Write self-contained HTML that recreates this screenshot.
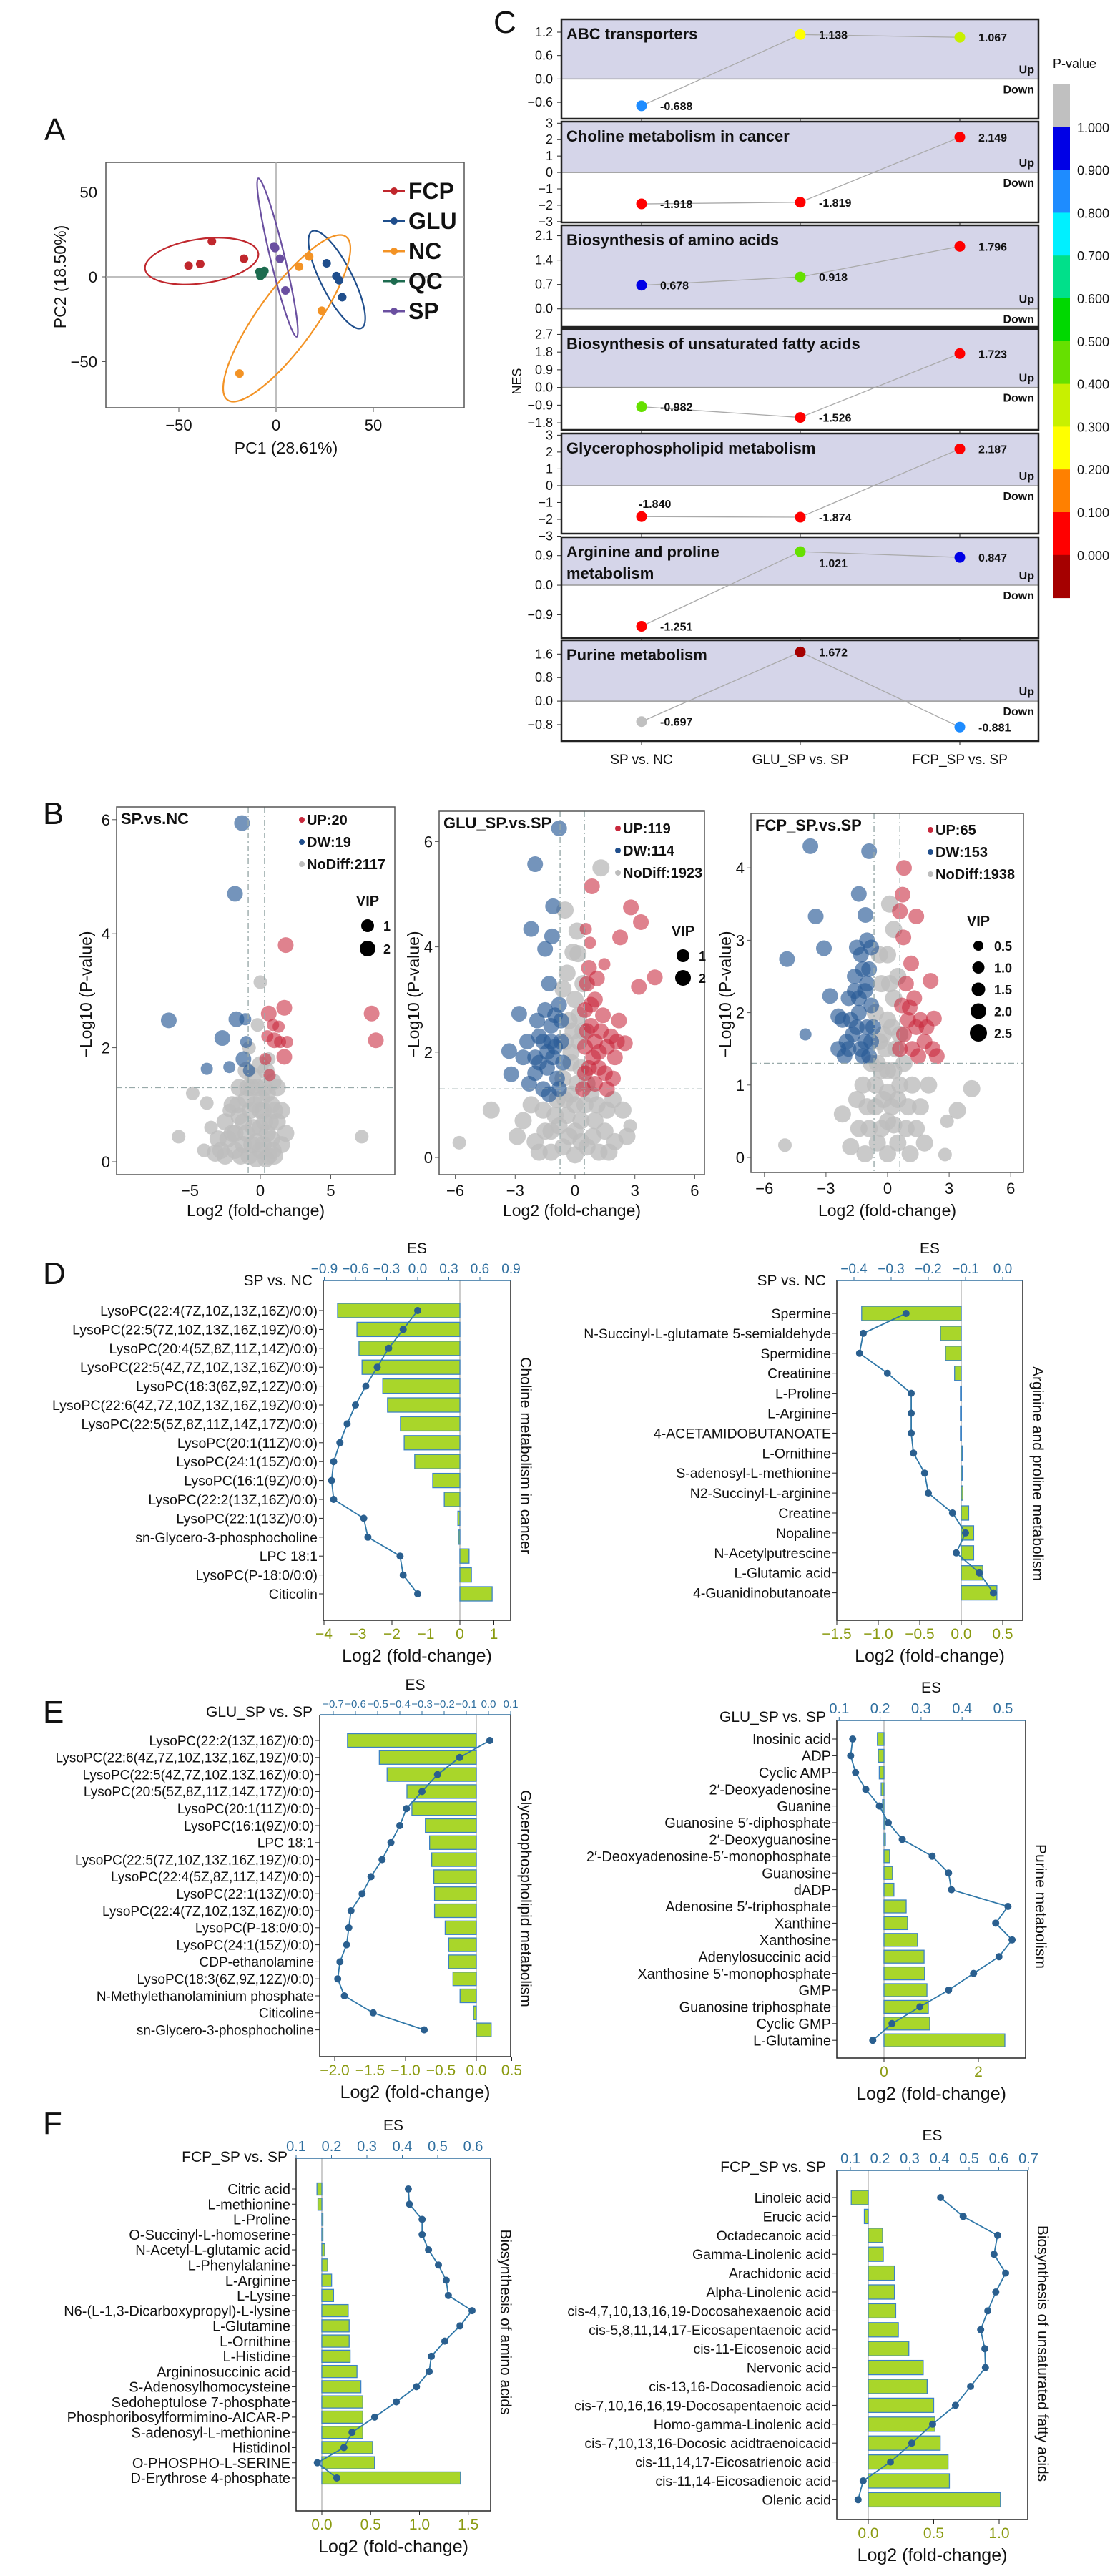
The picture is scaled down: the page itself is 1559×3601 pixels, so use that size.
<!DOCTYPE html>
<html><head><meta charset="utf-8">
<style>
body{margin:0;background:#fff;}
svg{display:block;font-family:"Liberation Sans",sans-serif;}
</style></head>
<body>
<svg id="fig" width="1559" height="3601" viewBox="0 0 1559 3601" xmlns="http://www.w3.org/2000/svg"></svg>
<script>
// ===== Panel A data =====
const pcaGroups = ["FCP","GLU","NC","QC","SP"];
const pcaColors = ["#c0272d","#1f4e8c","#f39325","#1d6b4f","#6a4fa0"];
const pcaFCP_x = [-45,-39,-33,-16.5];
const pcaFCP_y = [6.6,7.6,21,10.7];
const pcaGLU_x = [26,31,32.4,34];
const pcaGLU_y = [8,0.5,-2,-12];
const pcaNC_x = [17,11.8,23.5,-18.8];
const pcaNC_y = [12,6,-20,-57];
const pcaQC_x = [-8.5,-7,-6,-8];
const pcaQC_y = [3,1.5,3.5,0.5];
const pcaSP_x = [-1,2,4.8,-0.5];
const pcaSP_y = [18,10.7,-8,17];
const pcaXTicks = [-50,0,50];
const pcaYTicks = [50,0,-50];

// ===== Panel C data =====
const cPathways = ["ABC transporters","Choline metabolism in cancer","Biosynthesis of amino acids","Biosynthesis of unsaturated fatty acids","Glycerophospholipid metabolism","Arginine and proline\nmetabolism","Purine metabolism"];
const cComparisons = ["SP vs. NC","GLU_SP vs. SP","FCP_SP vs. SP"];
const nesABC = [-0.688,1.138,1.067];
const nesCholine = [-1.918,-1.819,2.149];
const nesAmino = [0.678,0.918,1.796];
const nesUnsat = [-0.982,-1.526,1.723];
const nesGlycero = [-1.840,-1.874,2.187];
const nesArginine = [-1.251,1.021,0.847];
const nesPurine = [-0.697,1.672,-0.881];
const pABC = [0.85,0.25,0.35];
const pCholine = [0.05,0.05,0.05];
const pAmino = [0.95,0.45,0.05];
const pUnsat = [0.45,0.05,0.05];
const pGlycero = [0.05,0.05,0.05];
const pArginine = [0.05,0.45,0.95];
const pPurine = [1.05,-0.05,0.85];
const ticksABC = [1.2,0.6,0.0,-0.6];
const ticksCholine = [3,2,1,0,-1,-2,-3];
const ticksAmino = [2.1,1.4,0.7,0.0];
const ticksUnsat = [2.7,1.8,0.9,0.0,-0.9,-1.8];
const ticksGlycero = [3,2,1,0,-1,-2,-3];
const ticksArginine = [0.9,0.0,-0.9];
const ticksPurine = [1.6,0.8,0.0,-0.8];
const rangeABC = [1.53,-1.02];
const rangeCholine = [3.1,-3.05];
const rangeAmino = [2.4,-0.52];
const rangeUnsat = [2.97,-2.16];
const rangeGlycero = [3.1,-2.85];
const rangeArginine = [1.46,-1.61];
const rangePurine = [2.07,-1.36];
const pvalTicks = ["1.000","0.900","0.800","0.700","0.600","0.500","0.400","0.300","0.200","0.100","0.000"];

// ===== Panel B data =====
const v1Up = [[1.8,3.8,2],[7.9,2.6,2],[8.2,2.13,2],[0.6,2.6,2],[1.7,2.7,2],[1.0,2.13,2],[1.7,1.84,2],[0.66,1.52,1],[0.36,1.8,1],[1.3,2.37,1],[0.5,2.2,1],[1.4,2.1,1],[0.9,2.4,1],[1.9,2.1,1]];
const v1Dw = [[-1.3,5.94,2],[-1.8,4.7,2],[-6.5,2.48,2],[-1.7,2.5,2],[-2.7,2.17,2],[-1.07,2.5,1],[-1.2,1.8,2],[-2.2,1.66,1],[-3.8,1.63,1],[-1.0,2.1,1],[-0.8,1.6,1]];
const v1No = [[0,3.15,1],[-4.8,1.2,1],[-3.8,1.03,1],[-5.8,0.44,1],[7.2,0.44,1],[-0.5,1.5,2],[0.3,1.3,2],[-1,1.1,2],[0.8,1.0,2],[-1.5,0.8,2],[1.2,0.7,2],[-2,0.5,2],[-3,0.4,2],[-4,0.2,1],[-2.5,0.1,2],[0,0.2,2],[0.5,0.5,2],[-0.5,0.6,2],[1.5,0.3,2],[-1.2,0.3,2],[0.2,0.9,2],[-0.3,0.05,2],[1,0.1,2],[-3.5,0.6,1],[-2.2,0.9,1],[0.6,1.8,1],[-0.8,2.0,1],[-0.2,2.4,1],[0.4,1.6,2],[-0.9,1.3,2],[0.9,1.4,2],[-1.8,0.2,2],[-0.6,0.3,2],[0.3,0.7,2],[-2,1.0,2],[-1.5,1.3,2],[-1,1.6,2],[0,1.7,2],[0.5,1.2,2],[1,0.9,2],[1.5,0.9,2],[-2.5,0.7,2],[-1.8,0.5,2],[-1,0.5,2],[0,0.9,2],[0.8,0.4,2],[-0.2,1.3,2],[-2.8,0.2,2],[1.2,1.3,2],[-1.4,0.1,2],[0.6,0.1,2],[-0.7,0.9,2],[0.2,0.3,2],[0,0.6,2],[-0.4,1.0,2],[0.7,0.7,2],[-1.2,0.7,2],[0.4,0.05,2],[-0.8,0.1,2],[-2.3,0.4,2],[-3.2,0.15,2],[1.8,0.5,2],[-0.3,0.35,2],[0.1,1.1,2],[-0.6,1.3,2],[-1.6,1.0,2],[0.9,0.2,2]];
const v2Up = [[0.85,5.15,2],[2.8,4.75,2],[3.3,4.47,2],[2.26,4.18,2],[0.54,4.34,1],[0.75,4.08,1],[4,3.42,2],[3.2,3.24,2],[1.47,3.67,1],[2.5,2.17,2],[0.6,3.3,2],[1,3.0,2],[0.5,2.8,2],[1.4,2.7,2],[0.8,2.5,2],[1.8,2.3,2],[0.5,2.1,2],[1.2,2.0,2],[2,1.9,2],[0.7,1.7,2],[1.5,1.6,2],[1,1.4,2],[0.4,1.3,2],[1.9,1.5,2],[2.2,2.6,2],[0.6,2.4,2],[1.1,3.4,2],[1.6,2.1,2],[0.7,3.6,2],[1.3,2.4,2],[0.9,1.9,2],[1.6,1.3,2],[0.5,1.6,2],[1.2,1.7,2],[2.1,2.2,2],[0.8,2.9,2],[1.0,2.2,2]];
const v2Dw = [[-0.8,6.25,2],[-2,5.57,2],[-1.1,4.77,2],[-2.2,4.34,2],[-1.15,4.2,2],[-1.5,3.96,2],[-1.3,3.3,2],[-2.8,2.73,2],[-3.3,2.02,2],[-3.2,1.58,2],[-1.5,2.8,2],[-1.2,2.5,2],[-1.8,2.3,2],[-1,2.1,2],[-2,1.9,2],[-1.4,1.7,2],[-0.9,1.5,2],[-2.3,1.4,2],[-1.6,1.3,2],[-0.7,2.6,2],[-1.1,1.9,2],[-1.9,2.6,2],[-0.6,1.8,2],[-1.3,1.2,2],[-2.4,2.2,2],[-1.6,2.2,2],[-0.8,2.9,2],[-1.2,2.2,2],[-2.0,1.6,2],[-0.8,1.3,2],[-1.8,1.8,2],[-1.0,2.7,2],[-1.4,2.0,2],[-2.6,1.9,2],[-0.7,2.2,2]];
const v2No = [[-4.2,0.9,2],[-5.8,0.28,1],[2.76,0.6,1],[1.3,5.5,2],[-0.5,4.7,2],[0.15,3.87,2],[0,3.0,2],[-0.3,2.6,2],[0.2,2.2,2],[-0.2,1.8,2],[0.1,1.4,2],[-0.5,1.1,2],[0.5,1.0,2],[-1,0.8,2],[1,0.7,2],[-1.5,0.5,2],[1.5,0.5,2],[-2,0.3,2],[2,0.3,2],[0,0.5,2],[-0.6,0.2,2],[0.6,0.2,2],[-1.2,0.1,2],[1.2,0.1,2],[0,0.05,2],[-2.6,0.7,2],[2.4,0.9,2],[-0.2,1.2,2],[0.3,1.7,2],[-0.1,2.4,2],[0.4,3.3,2],[-0.4,3.5,2],[-0.8,0.6,2],[0.8,1.2,2],[-2.2,1.0,2],[-1.6,0.9,2],[-1.2,0.5,2],[-0.4,0.8,2],[0.3,0.7,2],[0.9,0.4,2],[1.6,0.9,2],[1.9,1.1,2],[-1.8,0.1,2],[1.7,0.1,2],[-0.3,0.4,2],[0.3,0.3,2],[-0.6,1.5,2],[0.6,1.4,2],[-0.2,2.0,2],[0.2,2.7,2],[-0.5,2.2,2],[0.4,2.4,2],[-2.9,0.4,2],[2.6,0.4,2],[-0.9,1.1,2],[1.1,1.0,2],[0,1.0,2],[-0.1,3.9,2],[-0.6,3.2,2],[0.1,4.3,2]];
const v3Up = [[0.8,4.0,2],[0.73,3.63,2],[0.6,3.4,2],[1.4,3.33,2],[0.77,3.04,2],[1.15,2.68,2],[2.1,2.44,2],[2.26,1.92,2],[1.08,2.07,2],[0.7,2.1,2],[1,1.9,2],[1.4,1.8,2],[0.8,1.7,2],[1.8,1.6,2],[1.2,1.5,2],[2.2,1.5,2],[0.6,1.5,2],[1.6,1.9,2],[2.4,1.4,2],[1.3,2.2,2],[0.9,2.4,2],[1.9,1.8,2],[1.5,1.4,2]];
const v3Dw = [[-3.76,4.3,2],[-0.9,4.23,2],[-3.5,3.33,2],[-4.9,2.74,2],[-3.1,2.89,2],[-1.4,3.64,2],[-1.08,3.35,2],[-2.8,2.23,2],[-4,1.7,1],[-2.4,1.95,2],[-1,3.0,2],[-1.3,2.8,2],[-0.9,2.6,2],[-1.6,2.5,2],[-1.1,2.3,2],[-1.9,2.2,2],[-0.8,2.1,2],[-1.4,2.0,2],[-2.2,1.9,2],[-1,1.8,2],[-1.7,1.7,2],[-0.8,1.6,2],[-2.4,1.5,2],[-1.3,1.5,2],[-0.9,1.4,2],[-2,1.6,2],[-1.5,2.9,2],[-1.2,1.4,2],[-1.6,2.3,2],[-2.1,1.4,2],[-1.2,2.6,2],[-0.8,2.9,2],[-1.8,1.9,2],[-1.1,1.6,2],[-1.5,1.8,2],[-0.7,1.8,2],[-1.9,1.5,2],[-1.0,2.4,2],[-1.4,2.2,2]];
const v3No = [[4.1,0.95,2],[3.4,0.65,2],[2.9,0.5,1],[-5,0.17,1],[2.8,0.04,1],[0.3,3.15,2],[0,2.8,2],[-0.3,2.4,2],[0.3,2.2,2],[0,1.9,2],[-0.4,1.6,2],[0.4,1.5,2],[0,1.2,2],[-0.6,1.0,2],[0.6,1.0,2],[-1,0.7,2],[1,0.7,2],[-1.4,0.4,2],[1.4,0.4,2],[0,0.5,2],[-0.5,0.2,2],[0.5,0.2,2],[0,0.05,2],[-1.8,0.15,2],[1.8,0.2,2],[-0.2,0.8,2],[0.2,0.7,2],[-2.2,0.6,2],[2.0,1.0,2],[-0.6,2.0,2],[-0.3,1.2,2],[0.3,1.2,2],[-0.8,1.3,2],[0.8,1.3,2],[-0.2,1.7,2],[0.2,1.8,2],[0.5,2.5,2],[-0.4,2.8,2],[0.1,2.4,2],[-1.2,1.0,2],[1.2,1.0,2],[-0.9,0.4,2],[0.9,0.4,2],[-0.3,0.4,2],[0.3,0.45,2],[0,0.9,2],[-1.5,0.8,2],[1.6,0.7,2],[0.6,1.7,2],[-0.5,1.3,2],[-1.1,0.05,2],[1.1,0.05,2],[0.1,3.5,2],[-0.1,1.5,2],[0.5,0.8,2],[-0.6,0.7,2]];
const v1XTicks = [-5,0,5];
const v1YTicks = [0,2,4,6];
const v2XTicks = [-6,-3,0,3,6];
const v2YTicks = [0,2,4,6];
const v3XTicks = [-6,-3,0,3,6];
const v3YTicks = [0,1,2,3,4];

// ===== Panel D/E/F data =====
const dCholineNames = ["LysoPC(22:4(7Z,10Z,13Z,16Z)/0:0)","LysoPC(22:5(7Z,10Z,13Z,16Z,19Z)/0:0)","LysoPC(20:4(5Z,8Z,11Z,14Z)/0:0)","LysoPC(22:5(4Z,7Z,10Z,13Z,16Z)/0:0)","LysoPC(18:3(6Z,9Z,12Z)/0:0)","LysoPC(22:6(4Z,7Z,10Z,13Z,16Z,19Z)/0:0)","LysoPC(22:5(5Z,8Z,11Z,14Z,17Z)/0:0)","LysoPC(20:1(11Z)/0:0)","LysoPC(24:1(15Z)/0:0)","LysoPC(16:1(9Z)/0:0)","LysoPC(22:2(13Z,16Z)/0:0)","LysoPC(22:1(13Z)/0:0)","sn-Glycero-3-phosphocholine","LPC 18:1","LysoPC(P-18:0/0:0)","Citicolin"];
const dCholineFC = [-3.6,-3.03,-2.97,-2.88,-2.27,-2.13,-1.75,-1.64,-1.33,-0.8,-0.46,-0.06,-0.04,0.27,0.34,0.95];
const dCholineES = [0.0,-0.14,-0.28,-0.39,-0.5,-0.6,-0.68,-0.75,-0.81,-0.83,-0.81,-0.52,-0.48,-0.17,-0.14,0.0];
const dCholineFCTicks = [-4,-3,-2,-1,0,1];
const dCholineESTicks = [-0.9,-0.6,-0.3,0.0,0.3,0.6,0.9];

const dArgNames = ["Spermine","N-Succinyl-L-glutamate 5-semialdehyde","Spermidine","Creatinine","L-Proline","L-Arginine","4-ACETAMIDOBUTANOATE","L-Ornithine","S-adenosyl-L-methionine","N2-Succinyl-L-arginine","Creatine","Nopaline","N-Acetylputrescine","L-Glutamic acid","4-Guanidinobutanoate"];
const dArgFC = [-1.2,-0.25,-0.19,-0.08,-0.01,-0.01,-0.01,0.005,0.01,0.02,0.09,0.15,0.15,0.26,0.43];
const dArgES = [-0.26,-0.375,-0.385,-0.31,-0.246,-0.246,-0.246,-0.24,-0.21,-0.2,-0.135,-0.1,-0.125,-0.063,-0.025];
const dArgFCTicks = [-1.5,-1.0,-0.5,0.0,0.5];
const dArgESTicks = [-0.4,-0.3,-0.2,-0.1,0.0];

const eGlyNames = ["LysoPC(22:2(13Z,16Z)/0:0)","LysoPC(22:6(4Z,7Z,10Z,13Z,16Z,19Z)/0:0)","LysoPC(22:5(4Z,7Z,10Z,13Z,16Z)/0:0)","LysoPC(20:5(5Z,8Z,11Z,14Z,17Z)/0:0)","LysoPC(20:1(11Z)/0:0)","LysoPC(16:1(9Z)/0:0)","LPC 18:1","LysoPC(22:5(7Z,10Z,13Z,16Z,19Z)/0:0)","LysoPC(22:4(5Z,8Z,11Z,14Z)/0:0)","LysoPC(22:1(13Z)/0:0)","LysoPC(22:4(7Z,10Z,13Z,16Z)/0:0)","LysoPC(P-18:0/0:0)","LysoPC(24:1(15Z)/0:0)","CDP-ethanolamine","LysoPC(18:3(6Z,9Z,12Z)/0:0)","N-Methylethanolaminium phosphate","Citicoline","sn-Glycero-3-phosphocholine"];
const eGlyFC = [-1.82,-1.37,-1.26,-0.98,-0.91,-0.72,-0.66,-0.63,-0.6,-0.59,-0.59,-0.44,-0.39,-0.39,-0.33,-0.23,-0.04,0.21];
const eGlyES = [0.006,-0.13,-0.23,-0.30,-0.37,-0.40,-0.44,-0.48,-0.53,-0.57,-0.62,-0.63,-0.64,-0.67,-0.68,-0.65,-0.52,-0.29];
const eGlyFCTicks = [-2.0,-1.5,-1.0,-0.5,0.0,0.5];
const eGlyESTicks = [-0.7,-0.6,-0.5,-0.4,-0.3,-0.2,-0.1,0.0,0.1];

const ePurNames = ["Inosinic acid","ADP","Cyclic AMP","2\u2032-Deoxyadenosine","Guanine","Guanosine 5\u2032-diphosphate","2\u2032-Deoxyguanosine","2\u2032-Deoxyadenosine-5\u2032-monophosphate","Guanosine","dADP","Adenosine 5\u2032-triphosphate","Xanthine","Xanthosine","Adenylosuccinic acid","Xanthosine 5\u2032-monophosphate","GMP","Guanosine triphosphate","Cyclic GMP","L-Glutamine"];
const ePurFC = [-0.14,-0.12,-0.1,-0.06,-0.03,0.01,0.03,0.12,0.18,0.21,0.47,0.5,0.71,0.85,0.86,0.91,0.94,0.97,2.56];
const ePurES = [0.133,0.128,0.14,0.165,0.198,0.22,0.254,0.327,0.367,0.374,0.512,0.482,0.522,0.49,0.428,0.367,0.297,0.229,0.182];
const ePurFCTicks = [0,2];
const ePurESTicks = [0.1,0.2,0.3,0.4,0.5];

const fAmiNames = ["Citric acid","L-methionine","L-Proline","O-Succinyl-L-homoserine","N-Acetyl-L-glutamic acid","L-Phenylalanine","L-Arginine","L-Lysine","N6-(L-1,3-Dicarboxypropyl)-L-lysine","L-Glutamine","L-Ornithine","L-Histidine","Argininosuccinic acid","S-Adenosylhomocysteine","Sedoheptulose 7-phosphate","Phosphoribosylformimino-AICAR-P","S-adenosyl-L-methionine","Histidinol","O-PHOSPHO-L-SERINE","D-Erythrose 4-phosphate"];
const fAmiFC = [-0.05,-0.04,0.002,0.005,0.03,0.06,0.1,0.12,0.27,0.28,0.28,0.29,0.36,0.4,0.42,0.42,0.42,0.52,0.54,1.42];
const fAmiES = [0.417,0.42,0.456,0.456,0.474,0.502,0.524,0.53,0.597,0.563,0.52,0.482,0.476,0.44,0.383,0.322,0.258,0.235,0.16,0.215];
const fAmiFCTicks = [0.0,0.5,1.0,1.5];
const fAmiESTicks = [0.1,0.2,0.3,0.4,0.5,0.6];

const fFatNames = ["Linoleic acid","Erucic acid","Octadecanoic acid","Gamma-Linolenic acid","Arachidonic acid","Alpha-Linolenic acid","cis-4,7,10,13,16,19-Docosahexaenoic acid","cis-5,8,11,14,17-Eicosapentaenoic acid","cis-11-Eicosenoic acid","Nervonic acid","cis-13,16-Docosadienoic  acid","cis-7,10,16,16,19-Docosapentaenoic acid","Homo-gamma-Linolenic acid","cis-7,10,13,16-Docosic acidtraenoicacid","cis-11,14,17-Eicosatrienoic acid","cis-11,14-Eicosadienoic acid","Olenic acid"];
const fFatFC = [-0.13,-0.03,0.11,0.115,0.2,0.2,0.21,0.23,0.31,0.42,0.45,0.5,0.51,0.55,0.61,0.62,1.01];
const fFatES = [0.404,0.48,0.596,0.584,0.623,0.59,0.563,0.539,0.553,0.555,0.505,0.454,0.377,0.307,0.235,0.143,0.126];
const fFatFCTicks = [0.0,0.5,1.0];
const fFatESTicks = [0.1,0.2,0.3,0.4,0.5,0.6,0.7];

// ===== helpers =====
const NS = "http://www.w3.org/2000/svg";
const svg = document.getElementById("fig");
function mk(tag, attrs, parent){
  const e = document.createElementNS(NS, tag);
  for (const k in attrs) e.setAttribute(k, attrs[k]);
  (parent||svg).appendChild(e);
  return e;
}
function txt(s, x, y, size, opts, parent){
  const o = Object.assign({x:x, y:y, "font-size":size, fill:"#111"}, opts||{});
  const t = mk("text", o, parent);
  t.textContent = s;
  return t;
}
function grp(parent){ return mk("g", {}, parent); }

// ===== Panel labels =====
[["A",62,196],["C",690,46],["B",60,1152],["D",60,1795],["E",60,2408],["F",60,2983]].forEach(function(L){
  const t = txt(L[0], L[1], L[2], 44, {});
  
  
});

// ===== Panel A =====
(function(){
  const g = grp();
  
  
  const L=148, R=649, T=227, B=570;
  const xs = v => 386 + v*2.72;
  const ys = v => 387 - v*2.37;
  const fr = mk("rect",{x:L,y:T,width:R-L,height:B-T,fill:"none",stroke:"#555","stroke-width":1.5},g);
  
  
  const h0 = mk("line",{x1:L,x2:R,y1:ys(0),y2:ys(0),stroke:"#aaa","stroke-width":1.5},g);
  
  
  const v0 = mk("line",{x1:xs(0),x2:xs(0),y1:T,y2:B,stroke:"#aaa","stroke-width":1.5},g);
  
  
  pcaXTicks.forEach(function(v){
    const tk = mk("line",{x1:xs(v),x2:xs(v),y1:B,y2:B+6,stroke:"#555"},g);
    
    
    const t = txt(String(v).replace("-","\u2212"), xs(v), B+32, 22, {"text-anchor":"middle"}, g);
    
    
  });
  pcaYTicks.forEach(function(v){
    const tk = mk("line",{x1:L-6,x2:L,y1:ys(v),y2:ys(v),stroke:"#555"},g);
    
    
    const t = txt(String(v).replace("-","\u2212"), L-12, ys(v)+8, 22, {"text-anchor":"end"}, g);
    
    
  });
  const xt = txt("PC1 (28.61%)", 400, 634, 23, {"text-anchor":"middle"}, g);
  
  
  const yt = txt("PC2 (18.50%)", 0, 0, 23, {"text-anchor":"middle", transform:"translate(92,387) rotate(-90)"}, g);
  
  
  const ells = [[282,365,80,31,-8,0],[471,391,76,22,63,1],[401,445,141,40,-54,2],[388,360,114,10,76.4,4]];
  ells.forEach(function(E){
    const e = mk("ellipse",{cx:0,cy:0,rx:E[2],ry:E[3],fill:"none",stroke:pcaColors[E[5]],"stroke-width":2.2,transform:"translate("+E[0]+","+E[1]+") rotate("+E[4]+")"},g);
    
    
  });
  const sets = [[pcaFCP_x,pcaFCP_y],[pcaGLU_x,pcaGLU_y],[pcaNC_x,pcaNC_y],[pcaQC_x,pcaQC_y],[pcaSP_x,pcaSP_y]];
  sets.forEach(function(s,gi){
    s[0].forEach(function(x,i){
      const c = mk("circle",{cx:xs(x),cy:ys(s[1][i]),r:6,fill:pcaColors[gi]},g);
      
      
    });
  });
  pcaGroups.forEach(function(n,i){
    const y = 267 + i*42;
    const ln = mk("line",{x1:536,x2:566,y1:y,y2:y,stroke:pcaColors[i],"stroke-width":3},g);
    
    
    const c = mk("circle",{cx:551,cy:y,r:5,fill:pcaColors[i]},g);
    
    
    const t = txt(n, 571, y+11, 32, {"font-weight":"bold"}, g);
    
    
  });
})();

// ===== Panel C =====
const pColors = ["#a50000","#ff0000","#ff8000","#ffff00","#c8f000","#66e000","#00d800","#00e08a","#00f0ff","#1e8cff","#0000e6","#c0c0c0"];
function pColor(p){
  if (p < 0) return pColors[0];
  if (p >= 1) return pColors[11];
  return pColors[1 + Math.floor(p*10)];
}
(function(){
  const g = grp();
  
  
  const L=785, R=1452;
  const colX = [897,1119,1342];
  const nes = [nesABC,nesCholine,nesAmino,nesUnsat,nesGlycero,nesArginine,nesPurine];
  const pv = [pABC,pCholine,pAmino,pUnsat,pGlycero,pArginine,pPurine];
  const tk = [ticksABC,ticksCholine,ticksAmino,ticksUnsat,ticksGlycero,ticksArginine,ticksPurine];
  const rg = [rangeABC,rangeCholine,rangeAmino,rangeUnsat,rangeGlycero,rangeArginine,rangePurine];
  const tops = [27,170,315,460,606,751,895];
  const bots = [166,311,457,601,746,892,1036];
  cPathways.forEach(function(name,k){
    const T=tops[k], B=bots[k], vmax=rg[k][0], vmin=rg[k][1];
    const ys = v => T + (vmax-v)/(vmax-vmin)*(B-T);
    const sg = grp(g);
    
    
    const band = mk("rect",{x:L,y:T,width:R-L,height:ys(0)-T,fill:"#d5d5e9"},sg);
    
    
    const zl = mk("line",{x1:L,x2:R,y1:ys(0),y2:ys(0),stroke:"#999","stroke-width":1.5},sg);
    
    
    const fr = mk("rect",{x:L,y:T,width:R-L,height:B-T,fill:"none",stroke:"#222","stroke-width":2.5},sg);
    
    
    tk[k].forEach(function(v){
      const tl = mk("line",{x1:L-6,x2:L,y1:ys(v),y2:ys(v),stroke:"#222"},sg);
      
      
      const s = (Number.isInteger(v) && Math.abs(vmax)>2.5 && k!==3) ? String(v) : v.toFixed(1);
      const t = txt(s.replace("-","\u2212"), L-12, ys(v)+6, 18, {"text-anchor":"end"}, sg);
      
      
    });
    colX.forEach(function(x){
      const tl = mk("line",{x1:x,x2:x,y1:B,y2:B+5,stroke:"#222"},sg);
      
      
    });
    const lines = name.split("\n");
    lines.forEach(function(ln,i){
      const t = txt(ln, L+7, T+28+i*30, 22, {"font-weight":"bold"}, sg);
      
      
    });
    const up = txt("Up", R-6, ys(0)-8, 16, {"text-anchor":"end","font-weight":"bold"}, sg);
    
    
    const dn = txt("Down", R-6, ys(0)+20, 16, {"text-anchor":"end","font-weight":"bold"}, sg);
    
    
    const pts = nes[k].map((v,i)=>colX[i]+","+ys(v)).join(" ");
    const pl = mk("polyline",{points:pts,fill:"none",stroke:"#aaa","stroke-width":1.3},sg);
    
    
    nes[k].forEach(function(v,i){
      const c = mk("circle",{cx:colX[i],cy:ys(v),r:7.5,fill:pColor(pv[k][i])},sg);
      
      
      let lx = colX[i]+26, ly = ys(v)+6;
      if (k===4 && i===0){ lx = colX[i]-4; ly = ys(v)-12; }
      if (k===5 && i===1){ ly = ys(v)+22; }
      const t = txt(v.toFixed(3), lx, ly, 16, {"font-weight":"bold"}, sg);
      
      
    });
  });
  cComparisons.forEach(function(c,i){
    const t = txt(c, colX[i], 1068, 19, {"text-anchor":"middle"}, g);
    
    
  });
  const yt = txt("NES", 0, 0, 18, {"text-anchor":"middle", transform:"translate(729,533) rotate(-90)"}, g);
  
  
  const cb = grp(g);
  
  
  const cbT = 118, seg = 59.8;
  for (let i=0;i<12;i++){
    const r = mk("rect",{x:1472,y:cbT+i*seg,width:24,height:seg+0.5,fill:pColors[11-i]},cb);
    
    
  }
  pvalTicks.forEach(function(s,i){
    const t = txt(s, 1506, cbT+(i+1)*seg+7, 18, {}, cb);
    
    
  });
  const ct = txt("P-value", 1472, 95, 18, {}, cb);
  
  
})();

// ===== Panel B (volcano plots) =====
function volcano(cfg, up, dw, no, xt, yt){
  const g = grp();
  
  
  const xs = v => cfg.x0 + v*cfg.kx;
  const ys = v => cfg.y0 - v*cfg.ky;
  const cp = "clip"+cfg.id;
  const cpe = mk("clipPath",{id:cp},g);
  mk("rect",{x:cfg.L,y:cfg.T,width:cfg.R-cfg.L,height:cfg.B-cfg.T},cpe);
  const pg = mk("g",{"clip-path":"url(#"+cp+")"},g);
  
  
  const rad = s => s===2 ? 11 : 8.5;
  no.forEach(function(p){
    const c = mk("circle",{cx:xs(p[0]),cy:ys(p[1]),r:rad(p[2])+1,fill:"#bdbdbd","fill-opacity":0.8},pg);
    
    
  });
  dw.forEach(function(p){
    const c = mk("circle",{cx:xs(p[0]),cy:ys(p[1]),r:rad(p[2]),fill:"#2a5a96","fill-opacity":0.65},pg);
    
    
  });
  up.forEach(function(p){
    const c = mk("circle",{cx:xs(p[0]),cy:ys(p[1]),r:rad(p[2]),fill:"#c8283c","fill-opacity":0.58},pg);
    
    
  });
  [cfg.tl, cfg.tr].forEach(function(v){
    const l = mk("line",{x1:xs(v),x2:xs(v),y1:cfg.T,y2:cfg.B,stroke:"#9aa","stroke-width":1.4,"stroke-dasharray":"8,4,2,4"},g);
    
    
  });
  const hl = mk("line",{x1:cfg.L,x2:cfg.R,y1:ys(1.3),y2:ys(1.3),stroke:"#9aa","stroke-width":1.4,"stroke-dasharray":"8,4,2,4"},g);
  
  
  const fr = mk("rect",{x:cfg.L,y:cfg.T,width:cfg.R-cfg.L,height:cfg.B-cfg.T,fill:"none",stroke:"#555","stroke-width":1.5},g);
  
  
  xt.forEach(function(v){
    const tk = mk("line",{x1:xs(v),x2:xs(v),y1:cfg.B,y2:cfg.B+6,stroke:"#555"},g);
    
    
    const t = txt(String(v).replace("-","\u2212"), xs(v), cfg.B+30, 22, {"text-anchor":"middle"}, g);
    
    
  });
  yt.forEach(function(v){
    const tk = mk("line",{x1:cfg.L-6,x2:cfg.L,y1:ys(v),y2:ys(v),stroke:"#555"},g);
    
    
    const t = txt(String(v), cfg.L-9, ys(v)+8, 22, {"text-anchor":"end"}, g);
    
    
  });
  const xtt = txt("Log2 (fold-change)", (cfg.L+cfg.R)/2, 1700, 23, {"text-anchor":"middle"}, g);
  
  
  const ytt = txt("\u2212Log10 (P-value)", 0, 0, 23, {"text-anchor":"middle", transform:"translate("+cfg.ylx+",1390) rotate(-90)"}, g);
  
  
  const ti = txt(cfg.title, cfg.L+6, cfg.T+24, 22, {"font-weight":"bold"}, g);
  
  
  const lg = [["#c8283c",cfg.lab[0]],["#1f4e8c",cfg.lab[1]],["#bdbdbd",cfg.lab[2]]];
  lg.forEach(function(e,i){
    const y = cfg.lgY + i*31;
    const c = mk("circle",{cx:cfg.lgX,cy:y-7,r:4,fill:e[0]},g);
    
    
    const t = txt(e[1], cfg.lgX+7, y, 20, {"font-weight":"bold"}, g);
    
    
  });
  const vt = txt("VIP", cfg.vipX, cfg.vipY, 20, {"font-weight":"bold","text-anchor":"middle"}, g);
  
  
  cfg.vip.forEach(function(s,i){
    const y = cfg.vipY + 28 + i*cfg.vipStep;
    const c = mk("circle",{cx:cfg.vipX,cy:y,r:cfg.vipR[i],fill:"#000"},g);
    
    
    const t = txt(s, cfg.vipX+22, y+7, 18, {"font-weight":"bold"}, g);
    
    
  });
}
volcano({id:"sp-nc",L:163,R:552,T:1128,B:1642,x0:364,kx:19.7,y0:1624,ky:79.7,tl:-0.86,tr:0.3,ylx:128,title:"SP.vs.NC",lab:["UP:20","DW:19","NoDiff:2117"],lgX:422,lgY:1153,vipX:514,vipY:1266,vip:["1","2"],vipR:[9,11],vipStep:32}, v1Up, v1Dw, v1No, v1XTicks, v1YTicks);
volcano({id:"glu-sp",L:614,R:985,T:1134,B:1642,x0:804,kx:27.9,y0:1618,ky:73.6,tl:-0.75,tr:0.47,ylx:586,title:"GLU_SP.vs.SP",lab:["UP:119","DW:114","NoDiff:1923"],lgX:864,lgY:1165,vipX:955,vipY:1308,vip:["1","2"],vipR:[9,11],vipStep:31}, v2Up, v2Dw, v2No, v2XTicks, v2YTicks);
volcano({id:"fcp-sp",L:1050,R:1431,T:1137,B:1639,x0:1241,kx:28.7,y0:1618,ky:101.2,tl:-0.66,tr:0.6,ylx:1022,title:"FCP_SP.vs.SP",lab:["UP:65","DW:153","NoDiff:1938"],lgX:1301,lgY:1167,vipX:1368,vipY:1294,vip:["0.5","1.0","1.5","2.0","2.5"],vipR:[7,8.5,9.5,11,12],vipStep:30.5}, v3Up, v3Dw, v3No, v3XTicks, v3YTicks);

// ===== Panels D/E/F (bar + ES charts) =====
function barChart(cfg, names, fc, es, fcT, esT){
  const g = grp();
  
  
  const xs = v => cfg.x0 + v*cfg.kx;
  const es2x = v => cfg.e0 + v*cfg.ke;
  const ry = i => cfg.r0 + i*cfg.rs;
  const zl = mk("line",{x1:xs(0),x2:xs(0),y1:cfg.T,y2:cfg.B,stroke:"#bbb","stroke-width":1.5},g);
  
  
  fc.forEach(function(v,i){
    const x1 = Math.min(xs(0),xs(v)), w = Math.max(Math.abs(xs(v)-xs(0)),1.5);
    const r = mk("rect",{x:x1,y:ry(i)-cfg.bh/2,width:w,height:cfg.bh,fill:"#a9d62a",stroke:"#3d82c4","stroke-width":1.3},g);
    
    
  });
  const pts = es.map((v,i)=>es2x(v)+","+ry(i)).join(" ");
  const pl = mk("polyline",{points:pts,fill:"none",stroke:"#2f77a8","stroke-width":1.8},g);
  
  
  es.forEach(function(v,i){
    const c = mk("circle",{cx:es2x(v),cy:ry(i),r:5,fill:"#2a5f8f"},g);
    
    
  });
  const ax = mk("path",{d:"M"+cfg.L+","+cfg.T+" V"+cfg.B+" H"+cfg.R+" V"+cfg.T,fill:"none",stroke:"#222","stroke-width":1.5},g);
  
  
  const tl = mk("line",{x1:cfg.L,x2:cfg.R,y1:cfg.T,y2:cfg.T,stroke:"#2f6f9f","stroke-width":1.5},g);
  
  
  names.forEach(function(n,i){
    const tk = mk("line",{x1:cfg.L-6,x2:cfg.L,y1:ry(i),y2:ry(i),stroke:"#222"},g);
    
    
    const t = txt(n, cfg.L-8, ry(i)+cfg.fs*0.36, cfg.fs, {"text-anchor":"end"}, g);
    
    
  });
  fcT.forEach(function(v){
    const tk = mk("line",{x1:xs(v),x2:xs(v),y1:cfg.B,y2:cfg.B+6,stroke:"#222"},g);
    
    
    const s = cfg.fcDec ? v.toFixed(1) : String(v);
    const t = txt(s.replace("-","\u2212"), xs(v), cfg.B+26, 21, {"text-anchor":"middle",fill:"#8a9a10"}, g);
    
    
  });
  esT.forEach(function(v){
    const tk = mk("line",{x1:es2x(v),x2:es2x(v),y1:cfg.T-5,y2:cfg.T,stroke:"#2f6f9f"},g);
    
    
    const t = txt(v.toFixed(1).replace("-","\u2212"), es2x(v), cfg.T-10, cfg.esFs, {"text-anchor":"middle",fill:"#2f6f9f"}, g);
    
    
  });
  const et = txt("ES", (cfg.L+cfg.R)/2, cfg.esTitleY, 21, {"text-anchor":"middle"}, g);
  
  
  const xt = txt("Log2 (fold-change)", (cfg.L+cfg.R)/2, cfg.B+58, 25, {"text-anchor":"middle"}, g);
  
  
  const ct = txt(cfg.cmp, cfg.cmpX, cfg.cmpY, 21, {"text-anchor":"end"}, g);
  
  
  const pt = txt(cfg.path, 0, 0, 21, {"text-anchor":"middle", transform:"translate("+(cfg.R+14)+","+cfg.pathY+") rotate(90)"}, g);
  
  
}
barChart({id:"choline",L:452,R:714,T:1790,B:2265,x0:643,kx:47.5,e0:584,ke:145,r0:1832,rs:26.4,bh:20,fs:19.5,esFs:19,fcDec:false,esTitleY:1752,cmp:"SP vs. NC",cmpX:437,cmpY:1797,path:"Choline metabolism in cancer",pathY:2035}, dCholineNames, dCholineFC, dCholineES, dCholineFCTicks, dCholineESTicks);
barChart({id:"arginine",L:1170,R:1430,T:1790,B:2265,x0:1344,kx:116,e0:1402,ke:520,r0:1836,rs:27.9,bh:20,fs:19.5,esFs:19,fcDec:true,esTitleY:1752,cmp:"SP vs. NC",cmpX:1155,cmpY:1797,path:"Arginine and proline metabolism",pathY:2060}, dArgNames, dArgFC, dArgES, dArgFCTicks, dArgESTicks);
barChart({id:"glycerophospholipid",L:447,R:714,T:2397,B:2875,x0:666,kx:99,e0:683,ke:310,r0:2433,rs:23.8,bh:19,fs:19,esFs:15,fcDec:true,esTitleY:2362,cmp:"GLU_SP vs. SP",cmpX:437,cmpY:2400,path:"Glycerophospholipid metabolism",pathY:2654}, eGlyNames, eGlyFC, eGlyES, eGlyFCTicks, eGlyESTicks);
barChart({id:"purine",L:1170,R:1434,T:2405,B:2877,x0:1236,kx:66,e0:1116,ke:573,r0:2431,rs:23.4,bh:18,fs:20,esFs:20,fcDec:false,esTitleY:2366,cmp:"GLU_SP vs. SP",cmpX:1155,cmpY:2407,path:"Purine metabolism",pathY:2665}, ePurNames, ePurFC, ePurES, ePurFCTicks, ePurESTicks);
barChart({id:"amino-acids",L:414,R:686,T:3017,B:3510,x0:450,kx:136.5,e0:364.5,ke:495,r0:3060,rs:21.26,bh:17,fs:20,esFs:20,fcDec:true,esTitleY:2978,cmp:"FCP_SP vs. SP",cmpX:402,cmpY:3022,path:"Biosynthesis of amino acids",pathY:3246}, fAmiNames, fAmiFC, fAmiES, fAmiFCTicks, fAmiESTicks);
barChart({id:"unsaturated-fatty-acids",L:1170,R:1437,T:3034,B:3522,x0:1214,kx:183,e0:1147.5,ke:415,r0:3072,rs:26.4,bh:20,fs:19.5,esFs:20,fcDec:true,esTitleY:2992,cmp:"FCP_SP vs. SP",cmpX:1155,cmpY:3036,path:"Biosynthesis of unsaturated fatty acids",pathY:3290}, fFatNames, fFatFC, fFatES, fFatFCTicks, fFatESTicks);
</script>
</body></html>
